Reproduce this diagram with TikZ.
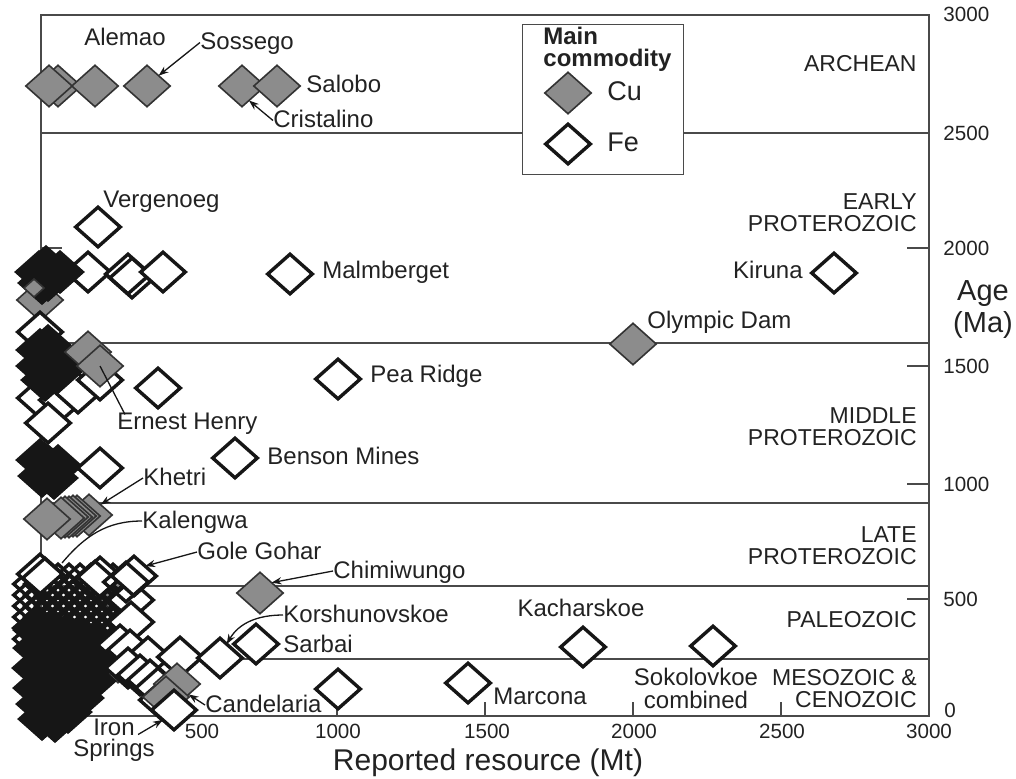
\documentclass[tikz,border=0pt]{standalone}
\usepackage{fontspec}
\setmainfont{Liberation Sans}
\usetikzlibrary{shapes.geometric,arrows.meta,calc}
\definecolor{cugray}{HTML}{8C8C8C}
\definecolor{ink}{HTML}{161616}
\definecolor{framec}{HTML}{4A4A4A}
\definecolor{txt}{HTML}{222222}
\begin{document}
\begin{tikzpicture}[x=0.5pt,y=-0.5pt,
  fe/.style={shape=diamond,draw=ink,line width=1.7pt,fill=white,minimum width=22.3pt,minimum height=19.8pt,inner sep=0pt,outer sep=0pt},
  feo/.style={fe,fill=none},
  fecore/.style={fe,fill=ink},
  cu/.style={shape=diamond,draw=black!80,line width=0.8pt,fill=cugray,minimum width=23.2pt,minimum height=20.7pt,inner sep=0pt,outer sep=0pt},
  lab/.style={font=\fontsize{12}{13}\selectfont,inner sep=0pt,text=txt,text height=0.716em,text depth=0pt},
  lab2/.style={font=\fontsize{12}{11.5}\selectfont,inner sep=0pt,text=txt,align=center},
  era/.style={font=\fontsize{11.5}{11}\selectfont,inner sep=0pt,text=txt,align=right,anchor=east},
  era1/.style={font=\fontsize{11.5}{11}\selectfont,inner sep=0pt,text=txt,anchor=east,text height=0.716em,text depth=0pt},
  tick/.style={font=\fontsize{10.3}{11}\selectfont,inner sep=0pt,text=txt,text height=0.716em,text depth=0pt},
  frame/.style={draw=framec,line width=1pt},
  conn/.style={line width=0.65pt,draw=ink},
  arr/.style={conn,-{Stealth[length=5pt,width=3.6pt]}},
]
\useasboundingbox (0,0) rectangle (1016,778);

% ---------- frame, era boundaries, ticks ----------
\draw[frame] (41,15) rectangle (929,716);
\foreach \yy in {133,343,503,586,659} \draw[frame] (41,\yy) -- (929,\yy);
\foreach \yy in {248,366,484,599} {\draw[frame] (907,\yy) -- (929,\yy); \draw[frame] (41,\yy) -- (62,\yy);}
\foreach \xx in {189,337,485,633,781} \draw[frame] (\xx,716) -- (\xx,702);

% ---------- tick labels ----------
\node[tick,anchor=west] (y3000) at (943,14) {3000};
\node[tick,anchor=west] (y2500) at (943,133) {2500};
\node[tick,anchor=west] (y2000) at (943,248) {2000};
\node[tick,anchor=west] (y1500) at (943,366) {1500};
\node[tick,anchor=west] (y1000) at (943,484) {1000};
\node[tick,anchor=west] (y500) at (943,599) {500};
\node[tick,anchor=west] (y0) at (944,710) {0};
\node[tick] (x500) at (202,731) {500};
\node[tick] (x1000) at (338,731) {1000};
\node[tick] (x1500) at (487,731) {1500};
\node[tick] (x2000) at (634,731) {2000};
\node[tick] (x2500) at (782,731) {2500};
\node[tick] (x3000) at (929,731) {3000};
\node[font=\fontsize{15}{16}\selectfont,inner sep=0pt,text=txt,text height=0.716em,text depth=0pt] (xtitle) at (488,763) {Reported resource (Mt)};
\node[font=\fontsize{14.5}{16}\selectfont,inner sep=0pt,text=txt,align=center,anchor=north] (ytitle) at (983,280) {Age\\(Ma)};

% ---------- era labels ----------
\node[era1] (eArch) at (917,64) {ARCHEAN};
\node[era] (eEarly) at (917,212.5) {EARLY\\PROTEROZOIC};
\node[era] (eMid) at (917,427) {MIDDLE\\PROTEROZOIC};
\node[era] (eLate) at (917,545.5) {LATE\\PROTEROZOIC};
\node[era1] (ePal) at (917,620) {PALEOZOIC};
\node[era] (eMes) at (917,688.5) {MESOZOIC \&\\CENOZOIC};

% ---------- Archean (Cu) ----------
\node[cu] (dAl2) at (58,86) {};
\node[cu] (dAl1) at (49,86) {};
\node[cu] (dAl3) at (95,86) {};
\node[cu] (dSossego) at (147,86) {};
\node[cu] (dCrist) at (242,86) {};
\node[cu] (dSalobo) at (277,86) {};

% ---------- Early Proterozoic ----------
\node[fe] (dVerg) at (98,227) {};
\node[cu] (dA0) at (40,300) {};
\node[fe] (dA1) at (88,272) {};
\foreach \p [count=\i] in {(39,272),(46,267),(51,276),(42,283),(48,280),(60,272)} \node[fecore] (cA\i) at \p {};
\node[cu,minimum width=10pt,minimum height=9pt] (dA2) at (34,288) {};
\node[fe] (dA3) at (128,274) {};
\node[feo] (dA4) at (132,278) {};
\node[fe] (dA5) at (163,272) {};
\node[fe] (dMalm) at (290,274) {};
\node[fe] (dKiruna) at (834,273) {};
\node[cu] (dOlymp) at (633,344) {};

% ---------- Middle Proterozoic ----------
\node[fe] (dB0) at (40,332) {};
\foreach \p [count=\i] in {(40,398),(62,400),(78,393),(100,380)} \node[fe] (dBb\i) at \p {};
\foreach \p [count=\i] in {(40,350),(48,346),(56,354),(40,366),(50,368),(58,372),(45,380),(62,360)} \node[fecore] (cB\i) at \p {};
\node[cu] (dB1) at (88,352) {};
\node[cu] (dEH) at (100,366) {};
\node[fe] (dB2) at (158,388) {};
\node[fe] (dB3) at (48,423) {};
\node[fe] (dPea) at (338,379) {};
\node[fe] (dBenson) at (235,458) {};
\foreach \p [count=\i] in {(40,460),(48,466),(42,476),(54,478),(58,466)} \node[fecore] (cC\i) at \p {};
\node[fe] (dC1) at (100,468) {};

% ---------- Late Proterozoic (Cu group) ----------
\node[cu] (dKhetri) at (89,515) {};
\foreach \p [count=\i] in {(77,516),(73,516),(69,517),(65,517),(61,518)} \node[cu] (dK\i) at \p {};
\node[cu] (dK0) at (47,519) {};

% ---------- big cluster (young) ----------
\node[cu] (dm0) at (112,590) {};
\node[cu] (dD0) at (118,662) {};
\foreach \xx in {36,47,...,120} \foreach \yy in {584,595,...,640}
  \node[feo] (mesh-\xx-\yy) at (\xx,\yy) {};
\foreach \p [count=\i] in {(37,630),(50,632),(65,636),(80,640),(95,645),
  (37,648),(52,650),(67,652),(82,657),(97,662),
  (36,668),(50,670),(65,672),(80,676),(92,681),
  (37,688),(52,690),(67,694),(80,698),
  (40,704),(55,707),(68,712),
  (42,719),(55,721)}
  \node[fecore] (cD\i) at \p {};
\node[fe] (dm1) at (40,574) {};
\node[feo] (dm1b) at (45,578) {};
\node[fe] (dm2) at (100,577) {};
\node[feo] (dm2b) at (95,581) {};
\node[fe] (dm3) at (131,600) {};
\node[fe] (dm4) at (131,622) {};
\node[fe] (dGole) at (134,576) {};
\node[feo] (dm5) at (126,582) {};
\foreach \p [count=\i] in {(120,645),(130,650),(148,657),(128,668),(140,675),(150,680),(158,688),(162,700)} \node[fe] (dT\i) at \p {};
\node[fe] (dT9) at (180,657) {};
\node[fe] (dKorsh) at (220,658) {};
\node[fe] (dSarbai) at (256,644) {};
\node[cu] (dCand) at (177,684) {};
\node[cu] (dCand2) at (166,697) {};
\node[fe] (dIron) at (174,710) {};
\node[cu] (dChimi) at (260,593) {};

% ---------- isolated young Fe ----------
\node[fe] (d1000) at (338,689) {};
\node[fe] (dMarcona) at (468,683) {};
\node[fe] (dKachar) at (583,647) {};
\node[fe] (dSokol) at (713,646) {};

% ---------- labels ----------
\node[lab] (tAlemao) at (125,38) {Alemao};
\node[lab,anchor=west] (tSossego) at (200,42.5) {Sossego};
\node[lab,anchor=west] (tSalobo) at (306,85) {Salobo};
\node[lab,anchor=west] (tCrist) at (273,120.5) {Cristalino};
\node[lab,anchor=west] (tVerg) at (103,200) {Vergenoeg};
\node[lab,anchor=west] (tMalm) at (322,271) {Malmberget};
\node[lab,anchor=east] (tKiruna) at (803,271) {Kiruna};
\node[lab,anchor=west] (tOlymp) at (647,321) {Olympic Dam};
\node[lab,anchor=west] (tPea) at (370,375) {Pea Ridge};
\node[lab,anchor=west] (tEH) at (117,422) {Ernest Henry};
\node[lab,anchor=west] (tBenson) at (267,457) {Benson Mines};
\node[lab,anchor=west] (tKhetri) at (143,478) {Khetri};
\node[lab,anchor=west] (tKalen) at (142,521) {Kalengwa};
\node[lab,anchor=west] (tGole) at (197,552) {Gole Gohar};
\node[lab,anchor=west] (tChimi) at (333,571) {Chimiwungo};
\node[lab,anchor=west] (tKorsh) at (283,615) {Korshunovskoe};
\node[lab] (tKachar) at (581,609) {Kacharskoe};
\node[lab,anchor=west] (tSarbai) at (283,645) {Sarbai};
\node[lab2] (tSokol) at (696,688) {Sokolovkoe\\combined};
\node[lab,anchor=west] (tMarcona) at (493,697) {Marcona};
\node[lab,anchor=west] (tCand) at (205,705) {Candelaria};
\node[lab2,font=\fontsize{12}{10.5}\selectfont,anchor=north] (tIron) at (114,718.5) {Iron\\Springs};

% ---------- connectors ----------
\coordinate (kalEnd) at (62,563);
\draw[arr] (tSossego.west) -- (dSossego.north east);
\draw[arr] (tCrist.west) -- ($(dCrist.south)!0.3!(dCrist.east)$);
\draw[arr] (tChimi.west) -- (dChimi.north east);
\draw[arr] (tGole.west) -- (dGole.north east);
\draw[conn] (tKalen.west) to[out=180,in=50] (kalEnd);
\draw[arr] (tKhetri.west) -- (dKhetri.north east);
\draw[conn] ([xshift=4pt]tEH.north west) -- (dEH.center);
\draw[arr] (tKorsh.west) to[out=180,in=60] ($(dKorsh.north)!0.3!(dKorsh.east)$);
\draw[arr] (tCand.west) -- (dCand.south east);
\draw[arr] ([xshift=-8.5pt,yshift=-8pt]tIron.north east) -- (dIron.south west);

% ---------- legend ----------
\node[draw=framec,line width=0.6pt,fill=white,minimum width=80.5pt,minimum height=75pt,inner sep=0pt,anchor=north west] (legend) at (522,24) {};
\node[font=\fontsize{12}{11}\selectfont\bfseries,text=txt,inner sep=0pt,align=left,anchor=north west] (legTitle) at (543,26.5) {Main\\commodity};
\node[cu] (legCu) at (568,93) {};
\node[fe] (legFe) at (568,144) {};
\node[font=\fontsize{13.5}{14}\selectfont,text=txt,inner sep=0pt,anchor=west,text height=0.716em,text depth=0pt] (legCuT) at (607,93) {Cu};
\node[font=\fontsize{13.5}{14}\selectfont,text=txt,inner sep=0pt,anchor=west,text height=0.716em,text depth=0pt] (legFeT) at (607,144) {Fe};
\end{tikzpicture}
\end{document}
